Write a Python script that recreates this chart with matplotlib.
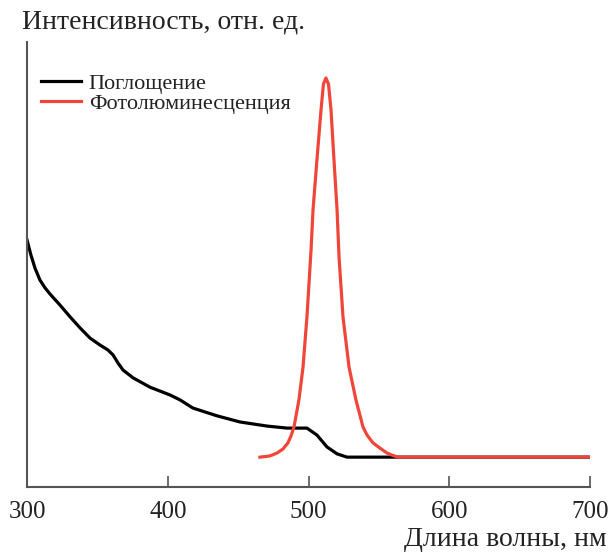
import matplotlib
matplotlib.use('Agg')
import matplotlib.pyplot as plt

# absorption spectrum (nm, a.u.)
abs_nm = [300.0, 302.8, 305.7, 309.2, 312.8, 316.3, 323.4, 330.6, 337.7, 344.8,
          351.9, 357.5, 361.1, 364.7, 368.2, 375.3, 387.4, 401.6, 408.7, 417.9,
          435.0, 451.3, 470.5, 484.7, 498.9, 506.0, 513.1, 520.3, 527.4, 565.0, 700.0]
abs_val = [0.604, 0.567, 0.535, 0.506, 0.487, 0.472, 0.445, 0.416, 0.389, 0.364,
           0.347, 0.335, 0.323, 0.303, 0.286, 0.267, 0.244, 0.225, 0.213, 0.193,
           0.174, 0.159, 0.149, 0.144, 0.144, 0.127, 0.098, 0.081, 0.073, 0.073, 0.073]

# photoluminescence spectrum (nm, a.u.)
pl_nm = [465.5, 472.6, 477.6, 481.9, 485.4, 487.6, 489.7, 493.2, 496.1, 498.9,
         501.8, 503.2, 506.0, 508.9, 510.6, 512.4, 514.2, 516.0, 518.1, 520.3,
         521.7, 524.5, 528.8, 533.7, 538.7, 541.6, 545.8, 550.8, 555.8, 559.3,
         563.6, 700.0]
pl_val = [0.073, 0.076, 0.083, 0.093, 0.108, 0.125, 0.147, 0.213, 0.293, 0.416,
          0.579, 0.677, 0.800, 0.922, 0.985, 1.000, 0.985, 0.922, 0.800, 0.677,
          0.562, 0.416, 0.293, 0.213, 0.147, 0.127, 0.108, 0.095, 0.083, 0.078,
          0.073, 0.073]

xticks = [300, 400, 500, 600, 700]

plt.rcParams['font.family'] = 'Liberation Serif'

fig = plt.figure(figsize=(6.12, 5.57), dpi=100)
ax = fig.add_axes([27/612, 1-487/557, 563/612, 445/557])

ax.plot(abs_nm, abs_val, color='black', lw=2.3, label='Поглощение')
ax.plot(pl_nm, pl_val, color='#f0463a', lw=2.3, label='Фотолюминесценция')

ax.set_xlim(300, 700)
ax.set_ylim(0, 1.088)
ax.set_xticks(xticks)
ax.set_yticks([])
for s in ['top', 'right']:
    ax.spines[s].set_visible(False)
for s in ['left', 'bottom']:
    ax.spines[s].set_color('#555555')
    ax.spines[s].set_linewidth(1.5)
ax.tick_params(axis='x', direction='in', length=8, width=1.2, color='#555555',
               labelsize=18, pad=10, labelcolor='#222222')

leg = ax.legend(loc='upper left', bbox_to_anchor=(0.009, 0.95), frameon=False,
                fontsize=16, handlelength=1.8, handletextpad=0.35,
                labelspacing=0.0, borderaxespad=0)
for t in leg.get_texts():
    t.set_color('#222222')

fig.text(22/612, 1-22/557, 'Интенсивность, отн. ед.', fontsize=20,
         ha='left', va='center', color='#222222')
fig.text(607/612, 1-540/557, 'Длина волны, нм', fontsize=20,
         ha='right', va='center', color='#222222')

fig.savefig('out.png', dpi=100)
